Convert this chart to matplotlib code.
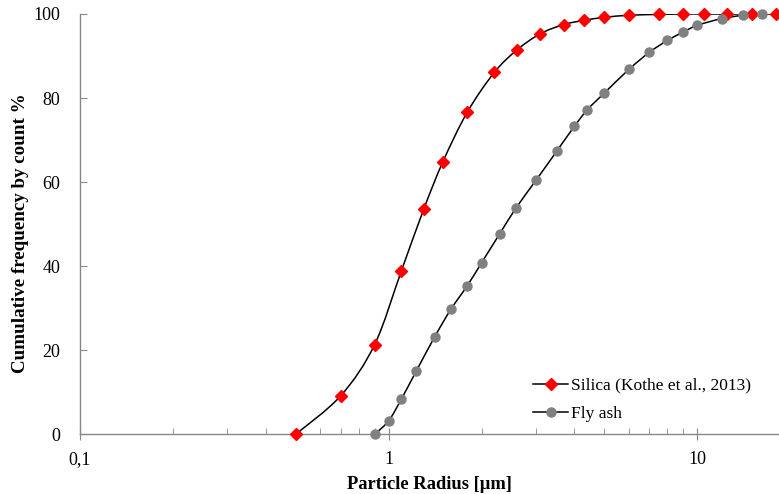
import numpy as np
import matplotlib
matplotlib.use('Agg')
import matplotlib.pyplot as plt
from matplotlib.path import Path
from matplotlib.patches import PathPatch
from matplotlib.lines import Line2D

# data
silica_r = [0.5, 0.7, 0.9, 1.1, 1.3, 1.5, 1.8, 2.2, 2.6, 3.1, 3.7, 4.3, 5.0, 6.0, 7.5, 9.0, 10.5, 12.5, 15.0, 18.0]
silica_cum = [0.0, 9.2, 21.3, 38.9, 53.6, 64.9, 76.7, 86.1, 91.4, 95.3, 97.5, 98.5, 99.2, 99.7, 99.9, 100, 100, 100, 100, 100]

flyash_r = [0.9, 1.0, 1.1, 1.23, 1.41, 1.59, 1.8, 2.0, 2.29, 2.59, 3.0, 3.5, 4.0, 4.4, 5.0, 6.0, 7.0, 8.0, 9.0, 10.0, 12.0, 14.1, 16.2]
flyash_cum = [0.0, 3.2, 8.4, 15.1, 23.2, 29.7, 35.4, 40.8, 47.7, 53.9, 60.4, 67.3, 73.3, 77.2, 81.2, 86.8, 90.9, 93.7, 95.7, 97.3, 98.9, 99.7, 100]

xticks = [0.1, 1, 10]
xtick_labels = ['0,1', '1', '10']
yticks = [0, 20, 40, 60, 80, 100]

plt.rcParams['font.family'] = ['Liberation Serif', 'DejaVu Serif']


def smooth_path(x, y):
    # excel-like smoothed line (catmull-rom bezier in log-x space)
    pts = np.column_stack([np.log10(x), y])
    verts = [pts[0]]
    codes = [Path.MOVETO]
    n = len(pts)
    for i in range(n - 1):
        p0 = pts[i - 1] if i > 0 else pts[i]
        p1 = pts[i]
        p2 = pts[i + 1]
        p3 = pts[i + 2] if i + 2 < n else pts[i + 1]
        verts += [p1 + (p2 - p0) / 6, p2 - (p3 - p1) / 6, p2]
        codes += [Path.CURVE4] * 3
    verts = np.array(verts)
    verts[:, 0] = 10 ** verts[:, 0]
    return Path(verts, codes)


fig = plt.figure(figsize=(7.79, 4.94), dpi=100)
ax = fig.add_axes([80 / 779, 1 - 434.3 / 494, 1 - 80 / 779, (434.3 - 14) / 494])
ax.set_xscale('log')

for xs, ys in [(silica_r, silica_cum), (flyash_r, flyash_cum)]:
    ax.add_patch(PathPatch(smooth_path(xs, ys), facecolor='none', edgecolor='black', lw=1.1, zorder=2))

ax.plot(silica_r, silica_cum, linestyle='none', marker='D', ms=6, color='#ff0000', zorder=3, clip_on=False)
ax.plot(flyash_r, flyash_cum, linestyle='none', marker='o', ms=6.5, color='#808080', zorder=3, clip_on=False)

ax.set_xlim(0.1, 18.4)
ax.set_ylim(0, 100)

ax.set_xticks(xticks)
ax.set_xticklabels(xtick_labels)
ax.set_yticks(yticks)
ax.tick_params(axis='x', which='major', direction='inout', length=8, color='#888888', labelsize=13, pad=8)
ax.tick_params(axis='x', which='minor', direction='in', length=4, color='#888888')
ax.tick_params(axis='y', which='major', direction='in', length=5, color='#888888', labelsize=13, pad=14)
ax.xaxis.set_minor_formatter(plt.NullFormatter())

for s in ['top', 'right']:
    ax.spines[s].set_visible(False)
for s in ['left', 'bottom']:
    ax.spines[s].set_color('#888888')
    ax.spines[s].set_linewidth(1.0)

ax.set_xlabel('Particle Radius [µm]', fontsize=13.3, fontweight='bold', labelpad=6)
ax.set_ylabel('Cumulative frequency by count %', fontsize=13.7, fontweight='bold')
ax.yaxis.set_label_coords(-0.073, 0.479)

handles = [
    Line2D([], [], color='black', lw=1.1, marker='D', ms=6, mfc='#ff0000', mec='#ff0000'),
    Line2D([], [], color='black', lw=1.1, marker='o', ms=6.5, mfc='#808080', mec='#808080'),
]
ax.legend(handles, ['Silica (Kothe et al., 2013)', 'Fly ash'], loc='lower right',
          bbox_to_anchor=(0.982, -0.008), frameon=False, fontsize=12.5, handlelength=2.0,
          handletextpad=0.15, labelspacing=0.7)

fig.savefig('out.png', dpi=100)
